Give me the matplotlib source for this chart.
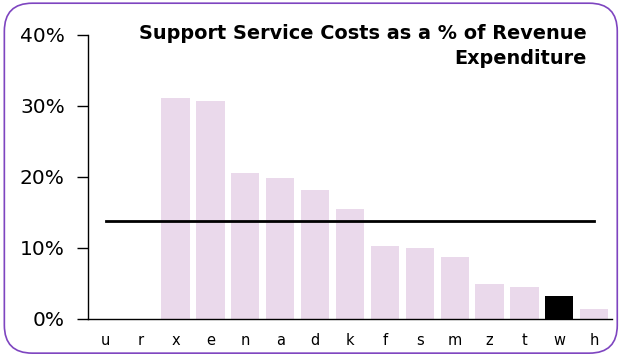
import matplotlib.pyplot as plt
from matplotlib.patches import FancyBboxPatch

# data
categories = ['u', 'r', 'x', 'e', 'n', 'a', 'd', 'k', 'f', 's', 'm', 'z', 't', 'w', 'h']
values = [0, 0, 31.1, 30.7, 20.5, 19.8, 18.2, 15.5, 10.3, 10.0, 8.7, 4.9, 4.4, 3.2, 1.4]
average = 13.8
highlight = 'w'
yticks = [0, 10, 20, 30, 40]
ytick_labels = ['0%', '10%', '20%', '30%', '40%']

fig = plt.figure(figsize=(6.21, 3.56), dpi=100)
ax = fig.add_axes([0.1422, 0.105, 0.8428, 0.7967])

colors = ['black' if c == highlight else '#EAD9EB' for c in categories]
x = list(range(len(categories)))
ax.bar(x, values, width=0.81, color=colors, edgecolor='none', zorder=2)

# average line
ax.plot([x[0], x[-1]], [average, average], color='black', linewidth=2, zorder=3)

ax.set_xlim(-0.5, len(categories) - 0.5)
ax.set_ylim(0, 40)
ax.set_yticks(yticks)
ax.set_yticklabels(ytick_labels, fontsize=14.5)
ax.set_xticks(x)
ax.set_xticklabels(categories, fontsize=10.5)
ax.tick_params(axis='y', length=8, width=1, pad=9)
ax.tick_params(axis='x', length=0, pad=10)
for side in ['top', 'right']:
    ax.spines[side].set_visible(False)
ax.spines['left'].set_linewidth(1)
ax.spines['bottom'].set_linewidth(1)

fig.text(0.945, 0.933, 'Support Service Costs as a % of Revenue\nExpenditure',
         ha='right', va='top', fontsize=13.9, fontweight='bold', linespacing=1.42)

# rounded border
border = FancyBboxPatch((0.007, 0.008), 0.987, 0.983, boxstyle='round,pad=0,rounding_size=0.045',
                        transform=fig.transFigure, facecolor='none', edgecolor='#7E45C0',
                        linewidth=1.2, mutation_aspect=621/356)
fig.patches.append(border)

plt.savefig('out.png', dpi=100)
